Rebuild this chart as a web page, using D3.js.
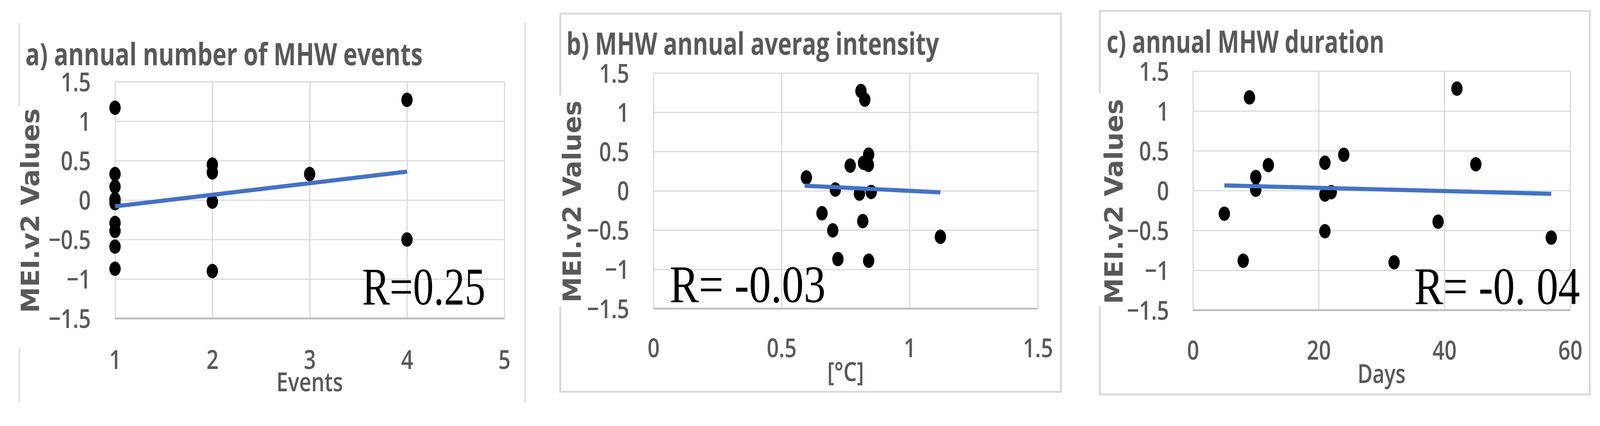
<!DOCTYPE html>
<html>
<head>
<meta charset="utf-8">
<script src="https://cdn.jsdelivr.net/npm/d3@7"></script>
<style>
  html, body { margin: 0; padding: 0; background: #fff; overflow: hidden; }
  svg { display: block; width: 100vw; height: auto; }
</style>
</head>
<body>
<div id="chart"></div>
<script>
// values
var yTicks = [-1.5, -1, -0.5, 0, 0.5, 1, 1.5];

var aTicks = [1, 2, 3, 4, 5];
var aEvents = [1, 1, 1, 1, 1, 1, 1, 1, 1, 2, 2, 2, 2, 3, 4, 4];
var aMEI = [1.17, 0.33, 0.17, 0.01, -0.04, -0.29, -0.39, -0.59, -0.87, 0.45, 0.35, -0.02, -0.90, 0.33, 1.27, -0.50];
var aTrendX = [1, 4], aTrendY = [-0.08, 0.36];

var bTicks = [0, 0.5, 1, 1.5];
var bIntensity = [0.81, 0.825, 0.84, 0.82, 0.839, 0.768, 0.597, 0.71, 0.804, 0.85, 0.658, 0.817, 0.70, 1.12, 0.72, 0.84];
var bMEI = [1.27, 1.16, 0.46, 0.356, 0.33, 0.32, 0.17, 0.016, -0.036, -0.016, -0.286, -0.386, -0.504, -0.586, -0.87, -0.89];
var bTrendX = [0.59, 1.12], bTrendY = [0.065, -0.02];

var cTicks = [0, 20, 40, 60];
var cDuration = [9, 42, 24, 21, 45, 12, 10, 10, 21, 22, 5, 39, 21, 57, 8, 32];
var cMEI = [1.17, 1.28, 0.45, 0.35, 0.33, 0.32, 0.17, 0.01, -0.05, -0.02, -0.29, -0.39, -0.51, -0.59, -0.88, -0.90];
var cTrendX = [5, 57], cTrendY = [0.065, -0.04];

var titles = ["a) annual number of MHW events", "b) MHW annual averag intensity", "c) annual MHW duration"];
var xTitles = ["Events", "[\u00B0C]", "Days"];
var rTexts = ["R=0.25", "R= -0.03", "R= -0. 04"];
var yTitle = "MEI.v2 Values";

var W = 4229, H = 1091;
var grey = "#595959";
var sansFont = "'Open Sans', 'Noto Sans', sans-serif";

var svg = d3.select("#chart").append("svg")
  .attr("viewBox", "0 0 " + W + " " + H)
  .attr("preserveAspectRatio", "xMinYMin meet");

svg.append("rect").attr("width", W).attr("height", H).attr("fill", "#fff");

// layout of each panel
var panels = [
  {left: 304, right: 1333, top: 216, bottom: 842, xDomain: [1, 5], xTicks: aTicks,
   xs: aEvents, ys: aMEI, tx: aTrendX, ty: aTrendY,
   frame: "sides", fx1: 51, fx2: 1388, fy1: 60, fy2: 1065,
   yLabRight: 240, xLabY: 976,
   title: {x: 67, y: 172, w: 1050}, xt: {y: 1035, w: 176}, rt: {x: 957, y: 805, w: 326},
   yl: {x: 103, y: 557, w: 541, box: [40, 280, 72, 640]}},
  {left: 1727, right: 2743, top: 193, bottom: 816, xDomain: [0, 1.5], xTicks: bTicks,
   xs: bIntensity, ys: bMEI, tx: bTrendX, ty: bTrendY,
   frame: "box", fx1: 1481, fx2: 2804, fy1: 36, fy2: 1036,
   yLabRight: 1663, xLabY: 945,
   title: {x: 1497, y: 145, w: 985}, xt: {y: 1008, w: 97}, rt: {x: 1770, y: 799, w: 412},
   yl: {x: 1535, y: 533, w: 534, box: [1470, 253, 75, 557]}},
  {left: 3153, right: 4150, top: 188, bottom: 820, xDomain: [0, 60], xTicks: cTicks,
   xs: cDuration, ys: cMEI, tx: cTrendX, ty: cTrendY,
   frame: "box", fx1: 2907, fx2: 4202, fy1: 29, fy2: 1043,
   yLabRight: 3090, xLabY: 951,
   title: {x: 2925, y: 139, w: 734}, xt: {y: 1013, w: 127}, rt: {x: 3738, y: 804, w: 438},
   yl: {x: 2967, y: 533, w: 542, box: [2895, 247, 80, 563]}}
];

function tickFmt(d) {
  return (d < 0 ? "\u2212" : "") + Math.abs(d);
}

panels.forEach(function(p, i) {
  var x = d3.scaleLinear().domain(p.xDomain).range([p.left, p.right]);
  var y = d3.scaleLinear().domain([-1.5, 1.5]).range([p.bottom, p.top]);
  var g = svg.append("g");

  // panel frame
  if (p.frame == "box") {
    g.append("rect")
      .attr("x", p.fx1).attr("y", p.fy1)
      .attr("width", p.fx2 - p.fx1).attr("height", p.fy2 - p.fy1)
      .attr("fill", "none").attr("stroke", "#d9d9d9").attr("stroke-width", 5);
  } else {
    [p.fx1, p.fx2].forEach(function(fx) {
      g.append("line")
        .attr("x1", fx).attr("x2", fx).attr("y1", p.fy1).attr("y2", p.fy2)
        .attr("stroke", "#d9d9d9").attr("stroke-width", 3);
    });
  }

  // y title with its white box over the frame
  g.append("rect")
    .attr("x", p.yl.box[0]).attr("y", p.yl.box[1])
    .attr("width", p.yl.box[2]).attr("height", p.yl.box[3])
    .attr("fill", "#fff");
  g.append("text")
    .attr("transform", "translate(" + p.yl.x + "," + p.yl.y + ") rotate(-90)")
    .attr("text-anchor", "middle")
    .attr("font-family", "'DejaVu Sans', sans-serif")
    .attr("font-weight", "bold")
    .attr("font-size", 67)
    .attr("fill", grey)
    .attr("textLength", p.yl.w)
    .attr("lengthAdjust", "spacingAndGlyphs")
    .text(yTitle);

  // grid
  g.append("g")
    .attr("transform", "translate(" + p.left + ",0)")
    .call(d3.axisLeft(y).tickValues(yTicks).tickSize(-(p.right - p.left)).tickFormat(""))
    .call(function(a) { a.select(".domain").remove(); })
    .selectAll("line").attr("stroke", "#d9d9d9").attr("stroke-width", 3);
  g.append("g")
    .attr("transform", "translate(0," + p.bottom + ")")
    .call(d3.axisBottom(x).tickValues(p.xTicks).tickSize(-(p.bottom - p.top)).tickFormat(""))
    .call(function(a) { a.select(".domain").remove(); })
    .selectAll("line").attr("stroke", "#d9d9d9").attr("stroke-width", 3);
  g.append("line")
    .attr("x1", x(p.xDomain[0])).attr("x2", x(p.xDomain[1]))
    .attr("y1", y(-1.5)).attr("y2", y(-1.5))
    .attr("stroke", "#bfbfbf").attr("stroke-width", 5);

  // y tick labels
  var ya = g.append("g")
    .attr("transform", "translate(" + p.left + ",0)")
    .call(d3.axisLeft(y).tickValues(yTicks).tickSize(0).tickFormat(tickFmt));
  ya.select(".domain").remove();
  ya.selectAll("text")
    .attr("x", 0).attr("y", 25).attr("dy", null)
    .attr("text-anchor", "end")
    .attr("transform", "translate(" + (p.yLabRight - p.left) + ",0) scale(0.8,1)")
    .attr("font-family", sansFont).attr("font-weight", 600)
    .attr("font-size", 70).attr("fill", grey);

  // x tick labels
  var xa = g.append("g")
    .attr("transform", "translate(0," + p.xLabY + ")")
    .call(d3.axisBottom(x).tickValues(p.xTicks).tickSize(0).tickFormat(tickFmt));
  xa.select(".domain").remove();
  xa.selectAll("text")
    .attr("x", 0).attr("y", 0).attr("dy", null)
    .attr("transform", "scale(0.8,1)")
    .attr("font-family", sansFont).attr("font-weight", 600)
    .attr("font-size", 70).attr("fill", grey);

  // x title
  g.append("text")
    .attr("x", (p.left + p.right) / 2).attr("y", p.xt.y)
    .attr("text-anchor", "middle")
    .attr("font-family", sansFont).attr("font-weight", 600)
    .attr("font-size", 70).attr("fill", grey)
    .attr("textLength", p.xt.w).attr("lengthAdjust", "spacingAndGlyphs")
    .text(xTitles[i]);

  // chart title
  g.append("text")
    .attr("x", p.title.x).attr("y", p.title.y)
    .attr("font-family", sansFont).attr("font-weight", "bold")
    .attr("font-size", 81).attr("fill", grey)
    .attr("textLength", p.title.w).attr("lengthAdjust", "spacingAndGlyphs")
    .text(titles[i]);

  // points
  g.selectAll("ellipse")
    .data(p.xs.map(function(v, k) { return [v, p.ys[k]]; }))
    .enter().append("ellipse")
    .attr("cx", function(d) { return x(d[0]); })
    .attr("cy", function(d) { return y(d[1]); })
    .attr("rx", 15).attr("ry", 19)
    .attr("fill", "#000");

  // trend line
  g.append("line")
    .attr("x1", x(p.tx[0])).attr("y1", y(p.ty[0]))
    .attr("x2", x(p.tx[1])).attr("y2", y(p.ty[1]))
    .attr("stroke", "#4472C4").attr("stroke-width", 11);

  // correlation text
  g.append("text")
    .attr("x", p.rt.x).attr("y", p.rt.y)
    .attr("font-family", "'Liberation Serif', 'Times New Roman', serif")
    .attr("font-size", 140).attr("fill", "#000")
    .attr("textLength", p.rt.w).attr("lengthAdjust", "spacingAndGlyphs")
    .text(rTexts[i]);
});
</script>
</body>
</html>
